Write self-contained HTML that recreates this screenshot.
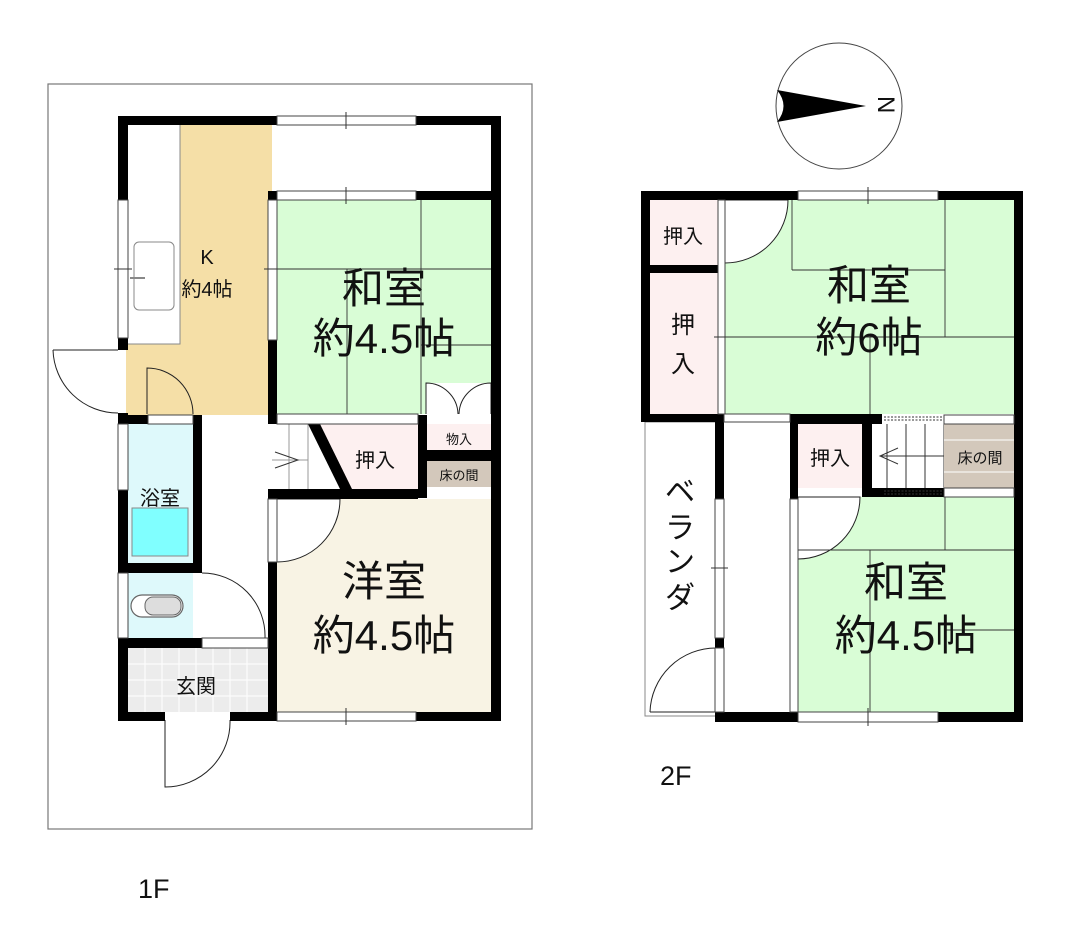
<!DOCTYPE html>
<html><head><meta charset="utf-8"><style>
html,body{margin:0;padding:0;background:#fff;}
svg{display:block;}
text{font-family:"Liberation Sans","Noto Sans CJK JP",sans-serif;fill:#111;}
</style></head><body>
<svg width="1067" height="939" viewBox="0 0 1067 939" xmlns="http://www.w3.org/2000/svg">
<!-- ===== 1F ===== -->
<rect x="48" y="84" width="484" height="745" fill="none" stroke="#777" stroke-width="1.2"/>
<rect x="126" y="124" width="146" height="291" fill="#f5dfa7"/>
<rect x="126" y="124" width="54" height="220" fill="#fff" stroke="#888" stroke-width="1"/>
<rect x="134" y="242" width="40" height="68" rx="5" fill="#fff" stroke="#888" stroke-width="1"/>
<line x1="130" y1="278" x2="145" y2="278" stroke="#888" stroke-width="2"/>
<rect x="272" y="124" width="219" height="67" fill="#fff"/>
<rect x="277" y="200" width="214" height="214" fill="#d9fdd6"/>
<g stroke="#333" stroke-width="0.9">
<line x1="421" y1="200" x2="421" y2="414"/>
<line x1="277" y1="269" x2="491" y2="269"/>
<line x1="347" y1="269" x2="347" y2="414"/>
<line x1="421" y1="345" x2="491" y2="345"/>
</g>
<rect x="426" y="383" width="65" height="31" fill="#fff"/>
<path d="M426 414 V383 A32 32 0 0 1 458 414" fill="none" stroke="#222" stroke-width="1"/>
<path d="M491 414 V383 A32 32 0 0 0 459 414" fill="none" stroke="#222" stroke-width="1"/>
<polygon points="318,424 418,424 418,489 350,489" fill="#fdf0f0"/>
<rect x="427" y="424" width="64" height="26" fill="#fdf0f0"/>
<rect x="427" y="461" width="64" height="26" fill="#d3c8bb"/>
<g stroke="#999" stroke-width="1"><line x1="289" y1="424" x2="289" y2="489"/><line x1="308" y1="424" x2="308" y2="489"/><line x1="272" y1="460" x2="308" y2="460"/></g>
<path d="M275 452 L298 460 L275 468" fill="none" stroke="#333" stroke-width="1"/>
<rect x="277" y="499" width="214" height="213" fill="#f8f3e4"/>
<path d="M277 499 H340 A63 63 0 0 1 277 562 Z" fill="#fff" stroke="#222" stroke-width="1"/>
<rect x="128" y="424" width="65" height="139" fill="#def9fb"/>
<rect x="132" y="508" width="56" height="48" fill="#80ffff" stroke="#888" stroke-width="1"/>
<rect x="128" y="573" width="65" height="65" fill="#def9fb"/>
<rect x="131" y="595" width="52" height="22" rx="11" fill="#fff" stroke="#666" stroke-width="1.2"/>
<rect x="145" y="597" width="36" height="18" rx="8" fill="#ddd" stroke="#666" stroke-width="1"/>
<path d="M202 573 A63 63 0 0 1 265 638" fill="none" stroke="#222" stroke-width="1"/>
<line x1="202" y1="638" x2="268" y2="638" stroke="#555" stroke-width="1"/>
<rect x="128" y="648" width="140" height="64" fill="#ececec"/>
<g stroke="#fff" stroke-width="1">
<line x1="145" y1="648" x2="145" y2="712"/><line x1="162" y1="648" x2="162" y2="712"/><line x1="179" y1="648" x2="179" y2="712"/><line x1="196" y1="648" x2="196" y2="712"/><line x1="213" y1="648" x2="213" y2="712"/><line x1="230" y1="648" x2="230" y2="712"/><line x1="247" y1="648" x2="247" y2="712"/>
<line x1="128" y1="664" x2="268" y2="664"/><line x1="128" y1="680" x2="268" y2="680"/><line x1="128" y1="696" x2="268" y2="696"/>
</g>
<path d="M165 720 V787 A65 65 0 0 0 230 720" fill="none" stroke="#222" stroke-width="1"/>
<path d="M53 350 H118 M53 350 A65 65 0 0 0 118 413" fill="none" stroke="#222" stroke-width="1"/>
<path d="M147 414 V368 A46 46 0 0 1 193 414" fill="none" stroke="#222" stroke-width="1"/>
<g fill="#000">
<rect x="118" y="116" width="159" height="9"/>
<rect x="416" y="116" width="85" height="9"/>
<rect x="491" y="116" width="10" height="605"/>
<rect x="118" y="116" width="10" height="84"/>
<rect x="118" y="338" width="10" height="12"/>
<rect x="118" y="413" width="10" height="11"/>
<rect x="118" y="490" width="10" height="83"/>
<rect x="118" y="638" width="10" height="83"/>
<rect x="268" y="191" width="9" height="9"/><rect x="416" y="191" width="85" height="9"/>
<rect x="268" y="340" width="9" height="84"/>
<rect x="118" y="415" width="30" height="9"/>
<rect x="193" y="415" width="9" height="158"/>
<rect x="118" y="563" width="84" height="10"/>
<rect x="118" y="638" width="84" height="10"/>
<rect x="268" y="489" width="150" height="10"/>
<rect x="268" y="562" width="9" height="159"/>
<rect x="418" y="415" width="9" height="83"/>
<rect x="427" y="450" width="64" height="11"/>
<rect x="118" y="712" width="47" height="9"/><rect x="230" y="712" width="47" height="9"/>
<rect x="416" y="712" width="85" height="9"/>
<polygon points="308,424 320,424 352,489 340,489"/>
</g>
<g fill="#fff" stroke="#444" stroke-width="1">
<rect x="277" y="116" width="139" height="9"/>
<rect x="277" y="191" width="139" height="9"/>
<rect x="277" y="712" width="139" height="9"/>
<rect x="118" y="200" width="10" height="138"/>
<rect x="118" y="424" width="10" height="66"/>
<rect x="118" y="573" width="10" height="65"/>
<rect x="268" y="200" width="9" height="140"/>
<rect x="277" y="414" width="141" height="10"/>
<rect x="268" y="499" width="9" height="63"/>
<rect x="202" y="638" width="66" height="10"/>
<rect x="148" y="415" width="45" height="9"/>
</g>
<g stroke="#333" stroke-width="1"><line x1="346" y1="112" x2="346" y2="129"/><line x1="346" y1="187" x2="346" y2="204"/><line x1="346" y1="708" x2="346" y2="725"/><line x1="114" y1="269" x2="132" y2="269"/><line x1="264" y1="269" x2="281" y2="269"/></g>
<text x="207" y="264" font-size="20" text-anchor="middle">K</text>
<text x="207" y="296" font-size="20" text-anchor="middle">約4帖</text>
<text x="384" y="303" font-size="42" text-anchor="middle">和室</text>
<text x="384" y="353" font-size="42" text-anchor="middle">約4.5帖</text>
<text x="375" y="467" font-size="20" text-anchor="middle">押入</text>
<text x="459" y="444" font-size="13" text-anchor="middle">物入</text>
<text x="459" y="480" font-size="13" text-anchor="middle">床の間</text>
<text x="160" y="505" font-size="20" text-anchor="middle">浴室</text>
<text x="196" y="693" font-size="20" text-anchor="middle">玄関</text>
<text x="384" y="596" font-size="42" text-anchor="middle">洋室</text>
<text x="384" y="650" font-size="42" text-anchor="middle">約4.5帖</text>
<text x="138" y="898" font-size="27">1F</text>

<!-- compass -->
<circle cx="839" cy="106" r="63" fill="none" stroke="#444" stroke-width="1"/>
<path d="M777 90 L866 106 L777 122 Q790 106 777 90 Z" fill="#000"/>
<text x="0" y="0" font-size="24" font-family="Liberation Serif" transform="translate(878,96) rotate(90)">N</text>

<!-- ===== 2F ===== -->
<rect x="650" y="200" width="68" height="65" fill="#fdf0f0"/>
<rect x="650" y="273" width="68" height="141" fill="#fdf0f0"/>
<rect x="725" y="200" width="289" height="214" fill="#d9fdd6"/>
<path d="M725 200 H788 A63 63 0 0 1 725 263 Z" fill="#fff" stroke="#222" stroke-width="1"/>
<g stroke="#333" stroke-width="0.9">
<line x1="792" y1="200" x2="792" y2="270"/><line x1="792" y1="270" x2="945" y2="270"/>
<line x1="945" y1="200" x2="945" y2="337"/><line x1="725" y1="337" x2="1014" y2="337"/>
<line x1="870" y1="337" x2="870" y2="414"/>
</g>
<rect x="645" y="422" width="71" height="294" fill="#fff" stroke="#888" stroke-width="1"/>
<path d="M650 712 A66 66 0 0 1 716 648" fill="none" stroke="#222" stroke-width="1"/>
<line x1="650" y1="712" x2="716" y2="712" stroke="#222" stroke-width="1"/>
<rect x="798" y="424" width="64" height="64" fill="#fdf0f0"/>
<rect x="872" y="424" width="72" height="64" fill="#fff"/>
<g stroke="#333" stroke-width="1">
<line x1="887" y1="424" x2="887" y2="488"/><line x1="906" y1="424" x2="906" y2="488"/><line x1="925" y1="424" x2="925" y2="488"/><line x1="944" y1="424" x2="944" y2="488"/>
<line x1="880" y1="456" x2="944" y2="456"/>
<path d="M898 448 L880 456 L898 464" fill="none"/>
</g>
<rect x="944" y="424" width="70" height="64" fill="#d3c8bb"/>
<g stroke="#fff" stroke-width="1"><line x1="944" y1="440" x2="1014" y2="440"/><line x1="944" y1="472" x2="1014" y2="472"/></g>
<rect x="798" y="497" width="216" height="215" fill="#d9fdd6"/>
<path d="M798 497 H860 A62 62 0 0 1 798 559 Z" fill="#fff" stroke="#222" stroke-width="1"/>
<g stroke="#333" stroke-width="0.9">
<line x1="798" y1="550" x2="1014" y2="550"/><line x1="945" y1="497" x2="945" y2="550"/>
<line x1="870" y1="550" x2="870" y2="712"/><line x1="945" y1="630" x2="1014" y2="630"/>
</g>
<g fill="#000">
<rect x="641" y="191" width="157" height="9"/>
<rect x="938" y="191" width="85" height="9"/>
<rect x="1014" y="191" width="9" height="531"/>
<rect x="641" y="191" width="9" height="231"/>
<rect x="641" y="265" width="84" height="8"/>
<rect x="641" y="414" width="84" height="8"/>
<rect x="715" y="422" width="9" height="77"/>
<rect x="715" y="638" width="9" height="10"/>
<rect x="715" y="712" width="83" height="10"/>
<rect x="938" y="712" width="85" height="10"/>
<rect x="790" y="414" width="92" height="10"/>
<rect x="790" y="414" width="8" height="85"/>
<rect x="862" y="414" width="10" height="83"/>
<rect x="862" y="488" width="82" height="9"/>
</g>
<g fill="#fff" stroke="#444" stroke-width="1">
<rect x="798" y="191" width="140" height="9"/>
<rect x="798" y="712" width="140" height="10"/>
<rect x="715" y="499" width="9" height="139"/>
<rect x="715" y="648" width="9" height="64"/>
<rect x="718" y="200" width="7" height="214"/>
<rect x="724" y="414" width="66" height="8"/>
<rect x="790" y="499" width="8" height="213"/>
<rect x="944" y="415" width="70" height="9"/>
<rect x="944" y="488" width="70" height="9"/>
</g>
<g stroke="#333" stroke-width="1" stroke-dasharray="2,1.5">
<line x1="884" y1="417" x2="944" y2="417"/><line x1="884" y1="420" x2="944" y2="420"/>
<line x1="884" y1="491" x2="944" y2="491"/><line x1="884" y1="494" x2="944" y2="494"/>
</g>
<g stroke="#333" stroke-width="1"><line x1="868" y1="187" x2="868" y2="204"/><line x1="868" y1="708" x2="868" y2="726"/><line x1="711" y1="568" x2="728" y2="568"/><line x1="714" y1="337" x2="729" y2="337"/></g>
<text x="683" y="243" font-size="20" text-anchor="middle">押入</text>
<text x="683" y="333" font-size="24" text-anchor="middle">押</text>
<text x="683" y="372" font-size="24" text-anchor="middle">入</text>
<text x="869" y="300" font-size="42" text-anchor="middle">和室</text>
<text x="869" y="352" font-size="42" text-anchor="middle">約6帖</text>
<text x="830" y="465" font-size="20" text-anchor="middle">押入</text>
<text x="980" y="463" font-size="15" text-anchor="middle">床の間</text>
<text x="906" y="597" font-size="42" text-anchor="middle">和室</text>
<text x="906" y="650" font-size="42" text-anchor="middle">約4.5帖</text>
<text x="680" y="502" font-size="30" text-anchor="middle">ベ</text>
<text x="680" y="538" font-size="30" text-anchor="middle">ラ</text>
<text x="680" y="572" font-size="30" text-anchor="middle">ン</text>
<text x="680" y="608" font-size="30" text-anchor="middle">ダ</text>
<text x="660" y="785" font-size="27">2F</text>
</svg>
</body></html>
